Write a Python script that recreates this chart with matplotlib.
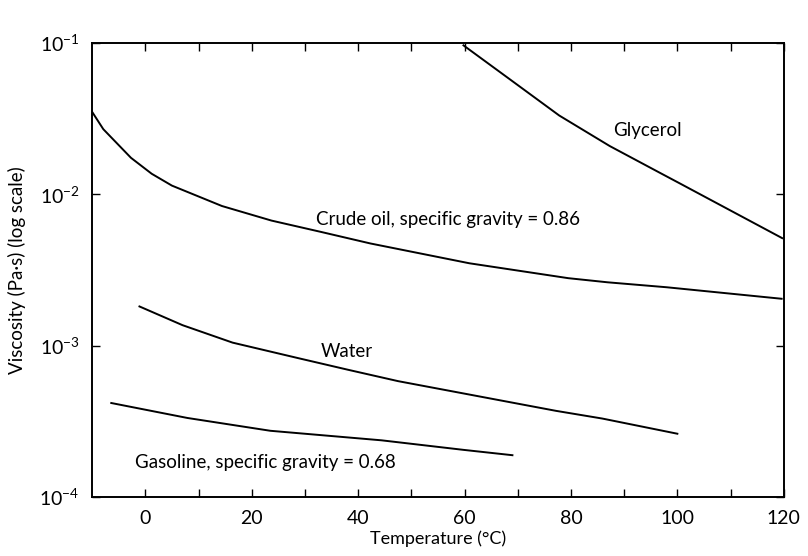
import matplotlib
matplotlib.use("Agg")
import matplotlib.pyplot as plt
from matplotlib.ticker import FixedLocator, NullLocator, LogFormatterSciNotation

plt.rcParams["font.family"] = ["Lato", "DejaVu Sans"]
plt.rcParams["mathtext.fontset"] = "custom"
plt.rcParams["mathtext.rm"] = "Lato"

# Viscosity vs temperature, Pa.s
crude_T = [-10, -7.9, -2.7, 1.2, 5.0, 14.4, 23.7, 33.0, 42.3, 60.9, 79.5, 86.9, 98.0, 119.6]
crude_mu = [0.0350, 0.0269, 0.0174, 0.01365, 0.0114, 0.00836, 0.00670, 0.00564,
            0.00473, 0.00350, 0.00279, 0.00262, 0.00243, 0.00204]

glycerol_T = [59.8, 68.2, 77.8, 87.3, 96.8, 100.6, 119.7]
glycerol_mu = [0.0962, 0.0585, 0.0331, 0.0208, 0.0138, 0.01172, 0.00513]

water_T = [-1.1, 7.0, 16.4, 28.8, 38.1, 47.5, 77.2, 85.9, 100.0]
water_mu = [1.815e-3, 1.365e-3, 1.047e-3, 8.26e-4, 6.93e-4, 5.83e-4, 3.71e-4, 3.30e-4, 2.62e-4]

gasoline_T = [-6.4, 7.9, 23.5, 44.4, 59.8, 69.0]
gasoline_mu = [4.18e-4, 3.33e-4, 2.74e-4, 2.37e-4, 2.05e-4, 1.89e-4]

x_major = [0, 20, 40, 60, 80, 100, 120]
x_minor = [10, 30, 50, 70, 90, 110]
y_major = [1e-4, 1e-3, 1e-2, 1e-1]

fig = plt.figure(figsize=(8.08, 5.56), dpi=100)
ax = fig.add_axes([0.114, 0.106, 0.856, 0.817])

for T, mu in [(crude_T, crude_mu), (glycerol_T, glycerol_mu),
              (water_T, water_mu), (gasoline_T, gasoline_mu)]:
    ax.plot(T, mu, color="black", linewidth=1.4, solid_joinstyle="round")

ax.set_yscale("log")
ax.set_xlim(-10, 120)
ax.set_ylim(1e-4, 1e-1)

ax.xaxis.set_major_locator(FixedLocator(x_major))
ax.xaxis.set_minor_locator(FixedLocator(x_minor))
ax.yaxis.set_major_locator(FixedLocator(y_major))
ax.yaxis.set_major_formatter(LogFormatterSciNotation())
ax.yaxis.set_minor_locator(NullLocator())

ax.tick_params(which="both", direction="in", length=6, width=1.0,
               top=True, right=True, labelsize=14, pad=9)
for s in ax.spines.values():
    s.set_linewidth(1.4)

ax.set_xlabel("Temperature (°C)", fontsize=13, labelpad=3)
ax.set_ylabel("Viscosity (Pa·s) (log scale)", fontsize=13.5, labelpad=10)

label_kw = dict(fontsize=13.5, va="center", ha="left")
ax.text(88, 0.0263, "Glycerol", **label_kw)
ax.text(32, 0.0068, "Crude oil, specific gravity = 0.86", **label_kw)
ax.text(33, 9.2e-4, "Water", **label_kw)
ax.text(-2, 1.7e-4, "Gasoline, specific gravity = 0.68", **label_kw)

fig.savefig("out.png", dpi=100)
